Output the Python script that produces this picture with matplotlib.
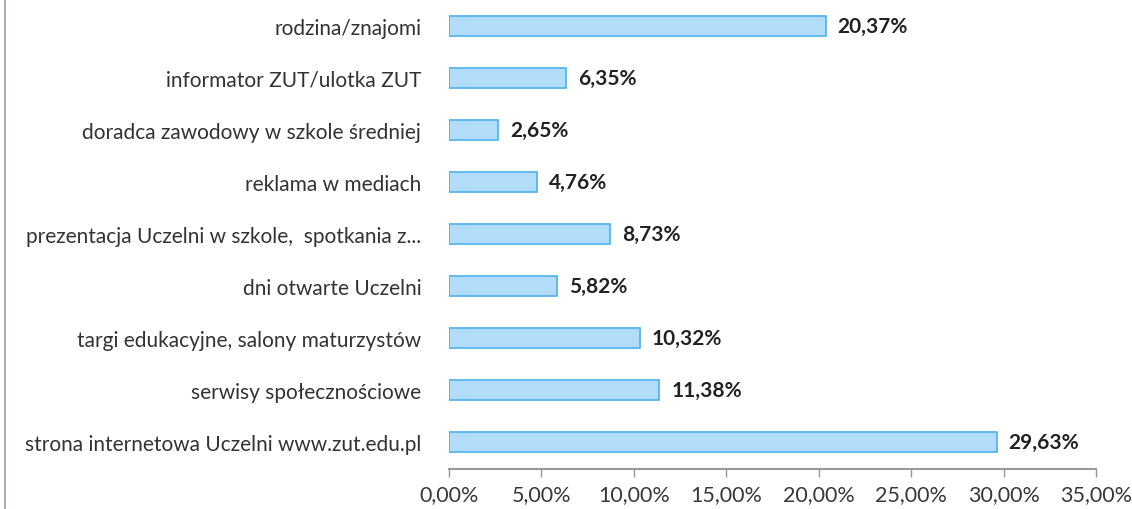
import matplotlib
matplotlib.use("Agg")
import matplotlib.pyplot as plt
from matplotlib.lines import Line2D

plt.rcParams['font.family'] = ['Lato', 'DejaVu Sans']

categories = [
    "strona internetowa Uczelni www.zut.edu.pl",
    "serwisy społecznościowe",
    "targi edukacyjne, salony maturzystów",
    "dni otwarte Uczelni",
    "prezentacja Uczelni w szkole,  spotkania z...",
    "reklama w mediach",
    "doradca zawodowy w szkole średniej",
    "informator ZUT/ulotka ZUT",
    "rodzina/znajomi",
]
values = [29.63, 11.38, 10.32, 5.82, 8.73, 4.76, 2.65, 6.35, 20.37]
xticks = [0, 5, 10, 15, 20, 25, 30, 35]

def pl_pct(v):
    return f"{v:.2f}%".replace(".", ",")

fig = plt.figure(figsize=(11.32, 5.10), dpi=100)
ax = fig.add_axes([449 / 1132, 40 / 510, (1096 - 449) / 1132, 469 / 510])

y = list(range(len(categories)))
ax.barh(y, values, height=0.38, color="#b2ddf9", edgecolor="#4fb0ec", linewidth=1.2)

for yi, v in zip(y, values):
    ax.text(v + 0.65, yi, pl_pct(v), va="center", ha="left",
            fontsize=15, fontweight="bold", color="#222222")

ax.set_xlim(0, 35)
ax.set_ylim(-0.52, 8.5)
ax.set_yticks(y)
ax.set_yticklabels(categories, fontsize=15, color="#333333")
ax.set_xticks(xticks)
ax.set_xticklabels([pl_pct(t) for t in xticks], fontsize=15.5, color="#383838")

for s in ["top", "right", "left"]:
    ax.spines[s].set_visible(False)
ax.spines["bottom"].set_color("#999999")
ax.spines["bottom"].set_linewidth(1.5)
ax.tick_params(axis="y", length=0, pad=20)
ax.tick_params(axis="x", length=6, color="#999999", width=1, pad=5)

# page frame line on the left edge
fig.add_artist(Line2D([5 / 1132, 5 / 1132], [0, 1], transform=fig.transFigure,
                      color="#9aa0b0", linewidth=1.2))

fig.savefig("out.png", dpi=100, facecolor="white")
